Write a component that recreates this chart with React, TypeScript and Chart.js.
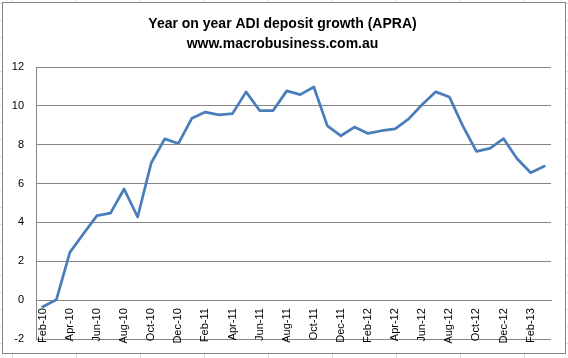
import React, { useEffect, useRef } from "react";
import { Chart, registerables } from "chart.js";

Chart.register(...registerables);

const TITLE_LINES = ["Year on year ADI deposit growth (APRA)", "www.macrobusiness.com.au"];

const MONTHS = [
  "Feb-10", "Mar-10", "Apr-10", "May-10", "Jun-10", "Jul-10", "Aug-10", "Sep-10", "Oct-10", "Nov-10", "Dec-10",
  "Jan-11", "Feb-11", "Mar-11", "Apr-11", "May-11", "Jun-11", "Jul-11", "Aug-11", "Sep-11", "Oct-11", "Nov-11", "Dec-11",
  "Jan-12", "Feb-12", "Mar-12", "Apr-12", "May-12", "Jun-12", "Jul-12", "Aug-12", "Sep-12", "Oct-12", "Nov-12", "Dec-12",
  "Jan-13", "Feb-13", "Mar-13",
];

const DEPOSIT_GROWTH = [
  -0.34, 0.02, 2.46, 3.42, 4.35, 4.48, 5.72, 4.28, 7.06, 8.3, 8.06,
  9.36, 9.68, 9.54, 9.6, 10.72, 9.76, 9.76, 10.77, 10.58, 10.97, 8.97, 8.46,
  8.91, 8.58, 8.72, 8.82, 9.33, 10.07, 10.72, 10.46, 8.96, 7.66, 7.81, 8.31,
  7.28, 6.56, 6.89,
];

const Y_MIN = -2;
const Y_MAX = 12;
const Y_STEP = 2;

const FONT = '"Liberation Sans", Arial, sans-serif';
const GRID = "#868686";

export default function App() {
  const ref = useRef<HTMLCanvasElement>(null);

  useEffect(() => {
    const canvas = ref.current;
    if (!canvas) return;
    const frame = {
      id: "frame",
      beforeDraw(chart: any) {
        const ctx = chart.ctx;
        ctx.save();
        ctx.fillStyle = "#ffffff";
        ctx.fillRect(2.5, 2.5, 563, 351);
        ctx.strokeStyle = GRID;
        ctx.lineWidth = 1;
        ctx.strokeRect(2.5, 2.5, 563, 351);
        ctx.fillStyle = "#000000";
        ctx.font = `bold 14px ${FONT}`;
        ctx.textAlign = "center";
        ctx.textBaseline = "alphabetic";
        TITLE_LINES.forEach((t, i) => ctx.fillText(t, 282.5, 28 + i * 20));
        ctx.restore();
      },
    };
    const chart = new Chart(canvas, {
      type: "line",
      data: {
        labels: MONTHS,
        datasets: [
          {
            data: DEPOSIT_GROWTH,
            borderColor: "#4A7EBB",
            borderWidth: 2.75,
            pointRadius: 0,
            tension: 0,
            fill: false,
            borderJoinStyle: "round",
            borderCapStyle: "round",
          },
        ],
      },
      options: {
        responsive: false,
        animation: false,
        devicePixelRatio: 1,
        layout: { padding: { left: 0, right: 17, top: 67, bottom: 19 } },
        plugins: {
          legend: { display: false },
          tooltip: { enabled: false },
          title: { display: false },
        },
        scales: {
          x: {
            type: "category",
            offset: true,
            position: { y: 0 } as any,
            grid: { display: false, drawTicks: false },
            border: { display: true, color: GRID, width: 1 },
            ticks: {
              autoSkip: false,
              minRotation: 90,
              maxRotation: 90,
              padding: 8,
              color: "#000000",
              font: { family: FONT, size: 11 },
              callback: (_v: any, i: number) => (i % 2 === 0 ? MONTHS[i] : ""),
            },
          },
          y: {
            min: Y_MIN,
            max: Y_MAX,
            ticks: {
              stepSize: Y_STEP,
              padding: 12,
              color: "#000000",
              font: { family: FONT, size: 11 },
            },
            grid: { color: GRID, drawTicks: false, lineWidth: 1 },
            border: { display: true, color: GRID, width: 1 },
            afterFit(scale: any) {
              scale.width = 36;
            },
          },
        },
      },
      plugins: [frame],
    } as any);
    return () => chart.destroy();
  }, []);

  return (
    <div
      style={{
        position: "absolute",
        left: 0,
        top: 0,
        width: 568,
        height: 358,
        backgroundColor: "#ffffff",
        backgroundImage:
          "linear-gradient(to right, #d4d8de 1px, transparent 1px), linear-gradient(to bottom, #d4d8de 1px, transparent 1px)",
        backgroundSize: "64px 100%, 100% 17px",
        backgroundPosition: "12px 0, 0 3px",
      }}
    >
      <canvas ref={ref} width={568} height={358} style={{ display: "block", width: 568, height: 358 }} />
    </div>
  );
}
